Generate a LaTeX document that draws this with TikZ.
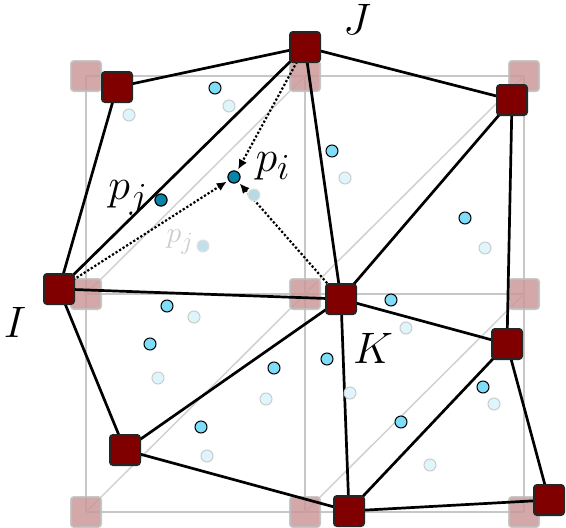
\documentclass[tikz,border=0pt]{standalone}
\usetikzlibrary{arrows.meta}
\definecolor{nodered}{RGB}{128,0,0}
\definecolor{ptcyan}{RGB}{126,222,250}
\definecolor{ptpale}{RGB}{222,245,251}
\definecolor{ptdark}{RGB}{8,132,166}
\newcommand{\biglbl}[1]{\scalebox{1.77}{\Huge$#1$}}
\tikzset{
  blk/.style={rectangle, rounded corners=3pt, minimum size=30pt, inner sep=0pt,
    fill=nodered, draw=black!85, line width=2pt},
  ghost/.style={blk, fill=nodered!40, draw=black!25, opacity=0.85},
  edge/.style={line width=2.7pt, black},
  pt/.style={circle, minimum size=12pt, inner sep=0pt, fill=ptcyan, draw=black, line width=1pt},
  ptold/.style={pt, fill=ptpale, draw=black!20},
}
\begin{document}
\begin{tikzpicture}[x=1pt,y=-1pt]
\useasboundingbox (0,0) rectangle (566,528);
\def\XA{86};\def\XB{305};\def\XC{524};
\def\YA{76};\def\YB{294};\def\YC{512};
% reference grid
\draw[black!22, line width=2pt] (\XA,\YA)--(\XC,\YA) (\XA,\YB)--(\XC,\YB) (\XA,\YC)--(\XC,\YC);
\draw[black!22, line width=2pt] (\XA,\YA)--(\XA,\YC) (\XB,\YA)--(\XB,\YC) (\XC,\YA)--(\XC,\YC);
\draw[black!18, line width=1.5pt] (\XA,\YB)--(\XB,\YA) (\XB,\YB)--(\XC,\YA);
\draw[black!18, line width=1.5pt] (\XA,\YC)--(\XB,\YB) (\XB,\YC)--(\XC,\YB);
\foreach \x in {\XA,\XB,\XC} \foreach \y in {\YA,\YB,\YC}
  \node[ghost] at (\x,\y) {};
% deformed mesh
\coordinate (TL) at (117,87);
\coordinate (J) at (305,47);
\coordinate (TR) at (512,100);
\coordinate (I) at (59,289);
\coordinate (K) at (341,299);
\coordinate (R) at (507,344);
\coordinate (BL) at (125,450);
\coordinate (BM) at (349,511);
\coordinate (BR) at (549,500);
\draw[edge] (TL)--(J) (TL)--(I) (I)--(J) (J)--(K) (J)--(TR) (TR)--(K) (TR)--(R);
\draw[edge] (I)--(K) (I)--(BL) (BL)--(K) (BL)--(BM) (K)--(BM) (K)--(R);
\draw[edge] (R)--(BM) (R)--(BR) (BM)--(BR);
% points
\node[pt, fill=ptdark] (pi) at (234,177) {};
\node[pt, fill=ptdark] (pj) at (161,200) {};
\draw[dotted, line width=2.2pt, -{Latex[length=10pt,width=9pt]}, shorten >=2pt] (J)--(pi);
\draw[dotted, line width=2.2pt, -{Latex[length=10pt,width=9pt]}, shorten >=2pt] (I)--(pi);
\draw[dotted, line width=2.2pt, -{Latex[length=10pt,width=9pt]}, shorten >=2pt] (K)--(pi);
\node[ptold, fill=ptdark!30, draw=black!12] (pio) at (254,195) {};
\node[ptold, fill=ptdark!25, draw=black!12] (pjo) at (203,246) {};
\node[ptold] at (229,106) {}; \node[pt] at (215,88) {};
\node[ptold] at (129,115) {};
\node[ptold] at (345,178) {}; \node[pt] at (332,151) {};
\node[ptold] at (485,248) {}; \node[pt] at (465,218) {};
\node[ptold] at (194,317) {}; \node[pt] at (167,306) {};
\node[ptold] at (158,378) {}; \node[pt] at (150,344) {};
\node[ptold] at (266,399) {}; \node[pt] at (274,368) {};
\node[ptold] at (207,456) {}; \node[pt] at (201,427) {};
\node[ptold] at (406,328) {}; \node[pt] at (391,300) {};
\node[ptold] at (350,393) {}; \node[pt] at (327,359) {};
\node[ptold] at (430,465) {}; \node[pt] at (401,422) {};
\node[ptold] at (494,404) {}; \node[pt] at (483,387) {};
\node[pt, fill=ptdark] at (pi) {};
\node[pt, fill=ptdark] at (pj) {};
% mesh nodes
\foreach \n in {TL,J,TR,I,K,R,BL,BM,BR}
  \node[blk] at (\n) {};
% labels
\node (lJ) at (357,19) {\biglbl{J}};
\node (lI) at (15,322) {\biglbl{I}};
\node (lK) at (373,348) {\biglbl{K}};
\node (lpi) at (273,166) {\biglbl{p_i}};
\node (lpj) at (128,198) {\biglbl{p_j}};
\node[black!20] (lpjo) at (180,242) {\scalebox{1.2}{\Huge$p_j$}};
\end{tikzpicture}
\end{document}
